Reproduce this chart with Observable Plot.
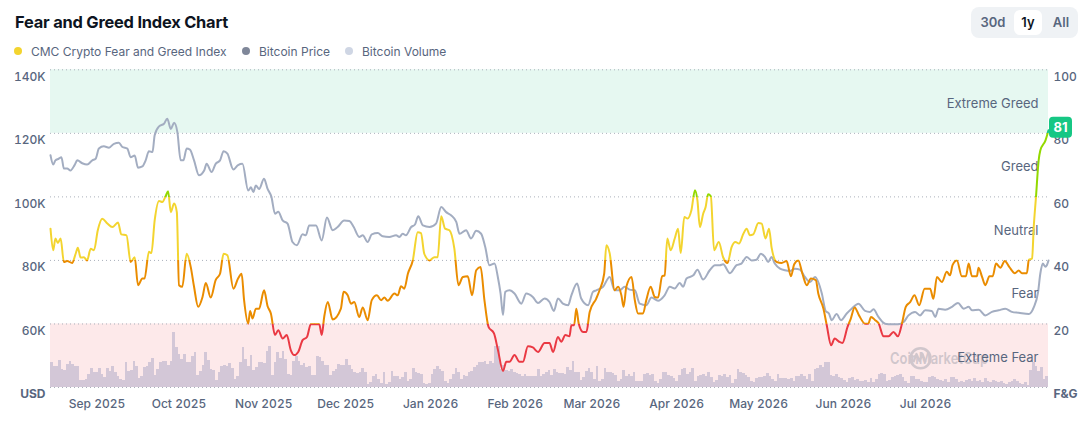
<!DOCTYPE html>
<html><head><meta charset="utf-8">
<script src="https://cdn.jsdelivr.net/npm/d3@7"></script>
<script src="https://cdn.jsdelivr.net/npm/@observablehq/plot@0.6"></script>
<style>
body{margin:0;background:#fff;font-family:Inter,"Noto Sans",sans-serif;}
#wrap{position:relative;width:1085px;height:443px;overflow:hidden;}
#title{position:absolute;left:15px;top:12px;font-size:16.4px;font-weight:700;color:#0d1421;letter-spacing:-0.2px;}
.lg{position:absolute;top:44px;font-size:12px;color:#58667e;white-space:nowrap;}
.dot{position:absolute;top:47px;width:8px;height:8px;border-radius:50%;}
#btns{position:absolute;left:971px;top:7px;width:107px;height:31px;background:#eff2f5;border-radius:8px;font-size:13px;color:#58667e;font-weight:600;}
#btns span{position:absolute;top:0;height:31px;line-height:31px;text-align:center;}
#btns .sel{background:#fff;color:#0d1421;border-radius:6px;top:3px;height:25px;line-height:25px;}
.layer{position:absolute;left:0;top:60px;}
</style></head>
<body><div id="wrap">
<div id="title">Fear and Greed Index Chart</div>
<div class="dot" style="left:14px;background:#f3d42f"></div><div class="lg" style="left:31px">CMC Crypto Fear and Greed Index</div>
<div class="dot" style="left:242px;background:#7f8799"></div><div class="lg" style="left:259px">Bitcoin Price</div>
<div class="dot" style="left:345px;background:#cfd6e4"></div><div class="lg" style="left:362px">Bitcoin Volume</div>
<div id="btns"><span style="left:8px;width:28px">30d</span><span class="sel" style="left:43px;width:28px">1y</span><span style="left:77px;width:26px">All</span></div>
<div id="chart"></div>
</div>
<script>
// ---- data ----
const startDate = Date.UTC(2025, 7, 15); // series start (day 0)
const totalDays = 365;
const monthTicks = ["2025-09-01","2025-10-01","2025-11-01","2025-12-01","2026-01-01","2026-02-01","2026-03-01","2026-04-01","2026-05-01","2026-06-01","2026-07-01"];
// [days since start, CMC Fear & Greed index]
const fearGreed = [[0,50],[1.0,43.2],[1.8,46.9],[2.7,45.5],[3.7,46.9],[4.9,39.5],[6.1,39.8],[7.9,39.2],[9.2,42.1],[10.0,44],[11.0,40.9],[12.2,41],[13.4,40],[14.7,43.7],[15.9,43.2],[17.3,49.5],[18.9,53.1],[20.8,51.6],[22.6,50.5],[24.7,51.9],[25.9,48.2],[27.8,47.9],[29.3,39.5],[30.8,41],[32.0,32.2],[33.6,34.3],[34.4,34.3],[36.0,42.7],[36.9,42.3],[38.1,52.6],[39.7,58.7],[40.9,58.4],[42.1,60.2],[43.0,61.8],[44.0,55.2],[45.2,57.9],[46.2,55.2],[47.0,32.2],[48.2,31.7],[49.8,42.1],[51.3,37.9],[52.5,31.7],[54.0,25.4],[55.6,28.5],[56.8,32.9],[58.6,28.3],[60.4,33.8],[62.0,35.8],[63.3,42.1],[64.7,41.6],[66.9,31.1],[68.6,34.3],[69.9,35.8],[70.8,27.5],[72.3,20.1],[73.0,24.1],[73.9,21.7],[75.1,24.8],[76.3,24.8],[78.1,30.6],[79.4,25.6],[80.6,23.3],[82.1,16.5],[83.3,18],[84.9,15.4],[86.4,16.5],[87.9,11.7],[89.1,10.2],[90.6,11.2],[92.2,14.9],[93.8,15.9],[95.2,19.9],[98.3,19.9],[99.2,16.5],[100.1,22.2],[101.4,26.9],[103.2,21.4],[106.2,24.8],[107.2,30.1],[108.7,29],[109.9,26.4],[111.1,26.9],[112.9,22.2],[114.2,25.2],[116.0,21.2],[117.5,27.5],[119.4,29],[120.9,27.5],[122.1,28.3],[123.3,27.3],[125.8,29.6],[127.0,29],[128.2,31.9],[129.4,31.1],[130.7,35.8],[132.5,40],[134.3,48.9],[135.5,48.6],[136.7,42.1],[138.6,40],[140.4,41],[141.6,41],[142.9,53.9],[144.3,50],[145.9,49.5],[147.7,43.7],[149.2,32.2],[150.8,34.8],[152.6,35],[154.2,29],[155.7,36.9],[157.3,37.9],[158.7,27.5],[160.2,19.1],[162.2,17],[163.6,12],[165.5,5.2],[166.7,8.1],[167.9,8.1],[169.7,10.2],[171.5,8.1],[172.8,8.1],[174.6,13],[176.4,12.6],[178.3,11.2],[180.7,14],[182.5,14],[183.8,11.2],[185.6,15.9],[186.8,14.4],[188.3,16.5],[189.8,16.1],[190.5,19.6],[191.5,19.6],[192.3,24.8],[193.2,20.1],[194.8,17.5],[196.0,17.5],[197.2,23.8],[199.6,28],[200.8,30.6],[202.5,35.8],[203.3,44.8],[204.5,42.3],[206.3,30.6],[207.6,31.7],[208.8,29],[209.6,25.4],[210.6,31.7],[212.5,34.8],[213.7,27.5],[214.9,23.3],[216.7,23.3],[217.9,27.5],[219.5,31.7],[221.0,28.5],[222.2,28.3],[223.7,35],[224.6,35.3],[225.6,46.9],[226.8,43.2],[228.3,46.9],[229.5,50],[230.5,42.3],[231.8,53.7],[233.0,53.2],[234.4,55.8],[235.7,62.1],[236.6,58.9],[237.5,50.5],[238.7,54.7],[239.6,56.8],[240.5,60.8],[241.5,60.2],[242.7,43.2],[244.4,45.8],[246.0,41],[247.6,39.2],[249.1,44.2],[250.5,45.8],[251.8,45.3],[253.4,48.4],[254.6,50],[255.8,47.9],[257.0,48.2],[258.9,51.8],[260.1,51.6],[261.5,46.9],[262.8,50],[263.7,44.2],[265.6,39.5],[267.4,39.2],[269.2,39.8],[270.8,35],[272.0,38.8],[273.5,40],[275.0,35.8],[276.6,32.2],[278.1,34.3],[279.9,33.8],[280.8,29.6],[282.7,24.8],[283.9,19.6],[285.5,13.3],[286.8,15.4],[288.4,14.4],[289.6,14],[291.5,19.1],[292.7,21.7],[294.1,25.2],[295.7,22.7],[297.9,20.1],[299.1,20.1],[300.1,22.2],[301.6,21.2],[302.8,20.3],[304.7,16.1],[306.5,16.1],[308.3,17.5],[309.9,16.1],[311.4,20.1],[312.8,25.4],[314.4,26.9],[316.0,29],[317.7,25.9],[319.7,31.1],[321.7,31.1],[322.9,27.9],[324.2,34.8],[326.0,33.2],[327.8,36.4],[329.0,35.3],[329.9,38.5],[331.5,40],[333.3,35],[334.8,35],[335.8,39],[337.0,35],[338.8,35],[339.4,37.7],[340.7,34.8],[341.9,32.2],[343.4,35],[344.6,35],[345.8,39],[347.4,37.7],[349.0,39.8],[350.7,37.9],[352.7,36],[354.1,36.8],[355.3,36],[357.1,36],[357.8,40.2],[359.0,40.6],[359.6,50.5],[360.4,59.7],[361.4,71.5],[362.0,74.6],[363.9,77.8],[365.0,81]];
// [days since start, Bitcoin price in thousand USD]
const btcPrice = [[0,113.1],[1.0,110.2],[1.8,111.5],[3.0,112],[4.0,112.5],[4.9,108.9],[6.1,108.9],[7.3,108.3],[8.8,110],[9.8,111.5],[11.6,110.6],[13.4,110.2],[15.3,111.5],[16.5,112],[17.7,115.2],[19.5,115.9],[21.4,115.5],[23.2,116.7],[25.0,117],[26.3,115.7],[28.1,115.2],[29.3,112.5],[30.8,113],[32.0,109.2],[33.6,109.6],[34.8,111.5],[36.0,114.4],[37.3,114.1],[38.1,119.4],[39.7,122.2],[41.5,123],[42.7,124.6],[44.0,121.4],[45.2,123.3],[46.4,120.4],[47.6,111.5],[48.6,111.5],[49.8,115.2],[51.0,114.9],[52.5,111.5],[54.3,106.8],[56.2,108.3],[57.1,110.4],[58.9,107.8],[60.4,110.4],[62.0,111.5],[63.3,114.4],[64.7,113.6],[66.9,108.6],[68.6,110],[70.2,110.4],[72.3,102],[73.3,103],[74.2,101.5],[75.1,103.6],[76.3,102.5],[78.1,105.7],[79.4,102.5],[80.8,100],[82.1,94.7],[83.3,95.3],[84.9,92.6],[86.7,91.6],[88.5,85.8],[90.1,84.8],[92.2,88.2],[93.4,87.9],[94.6,91],[97.1,91],[99.2,86.3],[101.1,93.5],[103.2,89.5],[105.0,90.5],[107.4,92.6],[109.3,92.4],[110.9,90.5],[112.9,87.4],[114.2,87.9],[116.0,85.8],[117.5,88.2],[119.7,88.6],[121.5,87.6],[123.9,87.4],[126.4,87.9],[127.6,87.4],[128.8,88.4],[130.0,87.9],[131.9,90.5],[133.3,91.3],[134.5,93.9],[136.2,91],[138.6,90.5],[141.0,91.6],[142.9,96.8],[144.7,95.2],[146.5,94.2],[148.4,92.1],[149.6,88.4],[152.0,89.5],[153.8,86.9],[155.7,89.3],[157.5,88.4],[159.0,84.2],[160.5,78.5],[162.4,79],[163.6,74.8],[164.6,69.6],[165.5,62.8],[166.3,70.1],[167.9,70.6],[169.7,69.6],[172.2,66.4],[174.0,69.6],[176.4,68.5],[178.3,66.6],[180.7,68],[182.5,66.9],[184.1,64.1],[185.6,68],[187.4,66.4],[189.3,65.9],[190.5,69],[192.6,72.7],[194.1,68],[196.6,65.9],[198.4,70.1],[199.6,70.6],[202.1,71.7],[204.5,74.8],[206.3,70.6],[208.2,70.6],[210.0,71.7],[211.8,70.8],[213.7,70.6],[215.5,66.4],[217.9,65.9],[219.8,68.3],[222.2,67.3],[224.6,69],[226.5,71.7],[228.3,71.2],[230.1,72.9],[231.4,71.7],[232.6,74.3],[235.1,75.3],[236.6,77.1],[238.7,74],[241.1,76.9],[243.0,78.5],[244.8,78.5],[246.0,78.8],[248.5,76],[250.9,78.5],[252.7,79],[254.6,81.1],[256.4,80],[258.2,80.2],[259.8,82.1],[261.3,81.1],[262.5,79.5],[263.7,81.1],[264.9,79],[266.8,77.4],[268.6,76.9],[270.4,76.7],[272.3,77.4],[274.1,77.1],[275.9,74.8],[277.8,73.2],[279.6,74.8],[282.1,69.6],[283.5,64.1],[284.7,63.3],[285.7,61.2],[287.5,63.1],[289.1,61.2],[291.2,63.3],[293.0,64.8],[295.5,66.4],[297.9,64.1],[299.7,63.8],[301.0,64.6],[302.8,62.2],[305.2,60.1],[307.7,59.9],[310.1,59.9],[312.0,60.6],[313.8,62.7],[316.2,63.8],[318.0,62.7],[319.9,64.3],[322.3,64.1],[323.6,62.2],[324.8,64.8],[327.2,64.5],[329.7,65.4],[331.9,66.6],[334.0,64.8],[335.8,65.4],[337.0,64.3],[339.5,64.5],[341.9,62.7],[344.3,63.8],[346.8,64.3],[349.2,64.8],[351.6,63.8],[354.1,63.5],[357.8,63.1],[359.6,65.2],[361.2,70.1],[362.0,75.8],[362.9,79],[363.9,78],[364.4,78.5],[365.0,80]];
// daily Bitcoin volume, billion USD
const btcVolume = [50,43,42,55,37,35,47,53,47,42,42,15,15,17,27,38,31,30,38,27,20,38,33,43,31,23,17,15,50,33,35,53,42,18,23,41,43,50,59,25,37,51,53,53,45,53,111,80,67,57,67,51,51,63,71,25,33,45,71,55,37,35,15,30,43,45,43,49,38,17,23,51,80,57,42,65,35,40,50,51,48,73,82,25,51,70,58,73,57,27,25,53,62,
53,45,49,40,43,25,25,63,60,53,45,45,25,33,37,47,45,45,57,45,37,31,29,31,38,31,7,10,23,27,17,9,30,7,10,33,23,23,17,20,31,13,17,38,30,29,27,9,7,9,27,37,43,37,33,13,9,17,27,38,30,17,25,22,30,33,40,45,51,50,53,47,53,49,83,83,37,45,35,33,37,30,29,27,23,27,23,23,22,22,37,23,27,30,
35,25,37,30,29,29,27,40,35,53,30,30,15,20,33,38,31,17,43,13,17,38,31,30,29,25,13,17,35,23,27,22,31,13,13,13,27,29,25,27,13,9,17,30,31,25,23,18,13,25,37,38,27,30,38,13,22,25,27,22,30,20,10,15,25,22,27,20,25,9,17,37,30,29,25,20,13,11,18,20,20,23,29,22,17,13,27,18,18,18,17,18,13,23,
23,27,22,17,27,13,37,38,45,40,50,51,25,23,27,20,18,15,10,18,20,15,17,13,13,15,11,18,11,17,27,29,27,13,15,20,23,25,27,20,13,9,23,22,17,17,13,10,11,20,23,20,17,15,13,17,10,20,20,17,11,13,11,15,17,13,18,13,15,11,18,13,11,15,13,10,13,9,7,11,13,17,13,9,7,10,5,35,50,43,33,40,17,23];
// Fear & Greed zones
const zoneLabels = ["Extreme Fear","Fear","Neutral","Greed","Extreme Greed"];
const zoneLow = [0,20,40,60,80];
const zoneHigh = [20,40,60,80,100];
const fgTicks = [0,20,40,60,80,100];
const priceTicks = [40,60,80,100,120,140];

// ---- styles ----
const zoneFill = {"Extreme Fear":"#fde9ea","Extreme Greed":"#e6f8f1"};
const fgColors = ["#ea3943","#ea8c00","#f3d42f","#93d900","#16c784"];
const W = 1085, H = 360;
const common = {width: W, height: H, marginLeft: 50, marginRight: 37, marginTop: 9.3, marginBottom: 33,
  style: {background: "transparent", fontFamily: "Inter, sans-serif", fontSize: "12px", color: "#58667e", overflow: "visible", maxWidth: "none"}};
const toDate = d => new Date(startDate + d * 864e5);
const xDomain = [toDate(0), toDate(totalDays)];
const zones = zoneLabels.map((label, i) => ({label, lo: zoneLow[i], hi: zoneHigh[i]}));
const fgRows = fearGreed.map(([d, v]) => ({date: toDate(d), value: v}));
const priceRows = btcPrice.map(([d, v]) => ({date: toDate(d), price: v}));
const volRows = btcVolume.map((v, i) => ({i, v}));
const ticksX = monthTicks.map(s => new Date(s));

const chart = document.getElementById("chart");
function add(svg){ svg.classList.add("layer"); chart.appendChild(svg); return svg; }

// Layer A: zones, grid, axes
const A = add(Plot.plot({...common,
  x: {type: "utc", domain: xDomain},
  y: {domain: [0, 100], label: null},
  marks: [
    Plot.rect(zones.filter(z => zoneFill[z.label]), {y1: "lo", y2: "hi", fill: d => zoneFill[d.label]}),
    Plot.gridY(fgTicks, {stroke: "#aab0bb", strokeOpacity: 1, strokeDasharray: "1,3"}),
    Plot.axisY(fgTicks, {anchor: "right", label: null, tickSize: 0, tickPadding: 5, dy: 7, tickFormat: d => d === 0 ? "F&G" : d, fontWeight: 500}),
    Plot.axisX(ticksX, {label: null, tickSize: 0, tickPadding: 12, tickFormat: d3.utcFormat("%b %Y"), fontWeight: 500})
  ]
}));

// Layer B: volume
const B = add(Plot.plot({...common,
  x: {type: "band", padding: 0, axis: null},
  y: {domain: [0, 636], axis: null},
  marks: [Plot.barY(volRows, {x: "i", y: "v", fill: "#d3c7d7", shapeRendering: "crispEdges"})]
}));
// watermark
const wm = d3.select(B).append("g").attr("opacity", 0.38).attr("fill", "none");
wm.append("circle").attr("cx", 920.5).attr("cy", 298.3).attr("r", 10).attr("stroke", "#8a8f9c").attr("stroke-width", 2.6);
wm.append("path").attr("d", "M913.5,302 L916.5,294 L919.5,301 L922.5,294 L925.5,302").attr("stroke", "#8a8f9c").attr("stroke-width", 2.2).attr("stroke-linejoin", "round");
wm.append("text").attr("x", 939).attr("y", 304).attr("fill", "#8a8f9c").attr("font-size", 16).attr("font-weight", 600)
  .attr("font-family", "Inter, sans-serif").attr("textLength", 98).attr("lengthAdjust", "spacingAndGlyphs").text("CoinMarketCap");

// Layer C: price
const C = add(Plot.plot({...common,
  x: {type: "utc", domain: xDomain, axis: null},
  y: {domain: [40, 140], label: null},
  marks: [
    Plot.axisY(priceTicks, {anchor: "left", label: null, tickSize: 0, tickPadding: 5, dy: 7, tickFormat: d => d === 40 ? "USD" : d + "K", fontWeight: 500}),
    Plot.line(priceRows, {x: "date", y: "price", stroke: "#a3adc1", strokeWidth: 2, curve: "monotone-x"})
  ]
}));

// Layer D: fear & greed line + labels
const D = add(Plot.plot({...common,
  x: {type: "utc", domain: xDomain, axis: null},
  y: {domain: [0, 100], axis: null},
  marks: [
    Plot.text(zones, {frameAnchor: "right", y: d => (d.lo + d.hi) / 2, text: "label", textAnchor: "end", dx: -10, dy: 2, fill: "#58667e", fontSize: 13}),
    Plot.line(fgRows, {x: "date", y: "value", stroke: "url(#fgGrad)", strokeWidth: 2, curve: "monotone-x"})
  ]
}));
const yFG = D.scale("y"), xFG = D.scale("x");
const grad = d3.select(D).insert("defs", ":first-child").append("linearGradient")
  .attr("id", "fgGrad").attr("gradientUnits", "userSpaceOnUse")
  .attr("x1", 0).attr("x2", 0).attr("y1", yFG.apply(0)).attr("y2", yFG.apply(100));
fgColors.forEach((c, i) => {
  grad.append("stop").attr("offset", zoneLow[i] / 100).attr("stop-color", c);
  grad.append("stop").attr("offset", zoneHigh[i] / 100).attr("stop-color", c);
});
// latest value badge
const last = fgRows[fgRows.length - 1];
const bx = xFG.apply(last.date), by = yFG.apply(last.value);
const badge = d3.select(D).append("g");
badge.append("rect").attr("x", bx + 1).attr("y", by - 13).attr("width", 23).attr("height", 21).attr("rx", 4).attr("fill", "#16c784");
badge.append("text").attr("x", bx + 12.5).attr("y", by - 2.5).attr("dy", "0.35em").attr("text-anchor", "middle")
  .attr("fill", "#fff").attr("font-weight", 700).attr("font-size", 13).attr("font-family", "Inter, sans-serif").text(Math.round(last.value));

// bold unit labels
[A, C].forEach(svg => d3.select(svg).selectAll("text").filter(function(){ return this.textContent === "USD" || this.textContent === "F&G"; }).attr("font-weight", 700));
</script>
</body></html>
